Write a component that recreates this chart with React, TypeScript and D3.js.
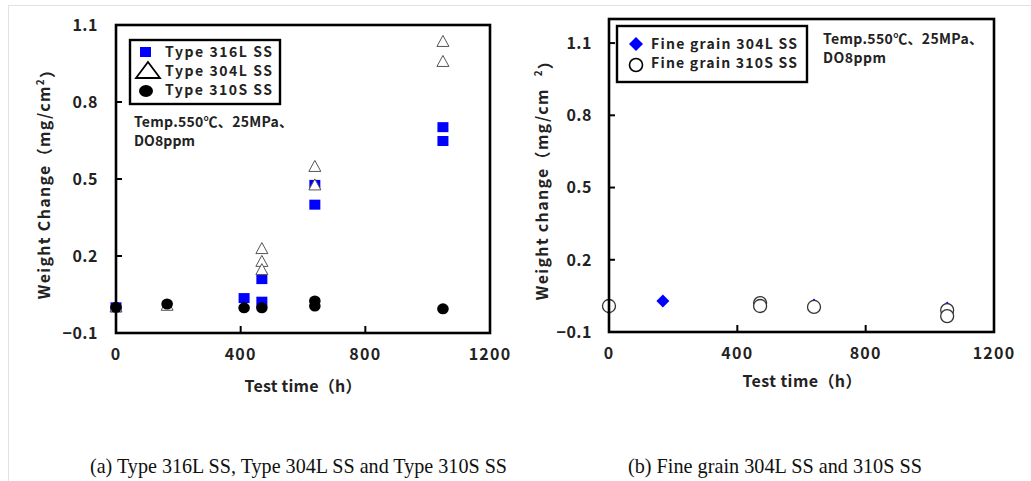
import React from "react";
import * as d3 from "d3";

// ---------- data ----------
// Panel (a): conventional grades
const t316L = [0, 411, 468, 468, 638, 638, 1049, 1049];
const w316L = [0.0, 0.036, 0.022, 0.11, 0.477, 0.4, 0.702, 0.648];

const t304L = [0, 164, 468, 468, 468, 638, 638, 1049, 1049];
const w304L = [0.0, 0.006, 0.227, 0.177, 0.145, 0.547, 0.475, 1.034, 0.956];

const t310S = [0, 164, 411, 468, 638, 638, 1049];
const w310S = [0.0, 0.013, -0.002, -0.002, 0.025, 0.005, -0.006];

// Panel (b): fine grain grades
const tFine304L = [0, 168, 471, 639, 1054];
const wFine304L = [0.0, 0.029, 0.016, 0.012, 0.0];

const tFine310S = [0, 471, 471, 639, 1054, 1054];
const wFine310S = [0.008, 0.02, 0.008, 0.004, -0.009, -0.034];

const xTicks = [0, 400, 800, 1200];
const yTicks = [-0.1, 0.2, 0.5, 0.8, 1.1];

const legendA = ["Type 316L SS", "Type 304L SS", "Type 310S SS"];
const legendB = ["Fine grain 304L SS", "Fine grain 310S SS"];
const condLine1 = "Temp.550℃、25MPa、";
const condLine2 = "DO8ppm";
const xTitle = "Test time（h）";
const captionA = "(a) Type 316L SS, Type 304L SS and Type 310S SS";
const captionB = "(b) Fine grain 304L SS and 310S SS";

const FONT = "'Noto Sans CJK JP', 'Noto Sans', sans-serif";
const BLUE = "#0000ff";

const zip = (ts: number[], ws: number[]) => ts.map((t, i) => ({ t, w: ws[i] }));

type Scales = { x: d3.ScaleLinear<number, number>; y: d3.ScaleLinear<number, number> };

function Frame({ x, y, yLabelX }: Scales & { yLabelX: number }) {
  const [x0, x1] = x.range();
  const [y0, y1] = y.range();
  const fmt = (v: number) => (v < 0 ? "\u2212" + Math.abs(v).toFixed(1) : v.toFixed(1));
  return (
    <g>
      <rect x={x0} y={y1} width={x1 - x0} height={y0 - y1} fill="none" stroke="#000" strokeWidth={2.6} />
      {yTicks.map((v) => (
        <g key={"y" + v}>
          <line x1={x0} x2={x0 + 6} y1={y(v)} y2={y(v)} stroke="#000" strokeWidth={2} />
          <text x={yLabelX} y={y(v)} dy="0.36em" textAnchor="end" fontSize={16} fontWeight={700}
            fontFamily={FONT} fill="#222" letterSpacing={0.5}>
            {fmt(v)}
          </text>
        </g>
      ))}
      {xTicks.map((v) => (
        <g key={"x" + v}>
          <line x1={x(v)} x2={x(v)} y1={y0} y2={y0 - 7} stroke="#000" strokeWidth={2} />
          <text x={x(v)} y={y0 + 27} textAnchor="middle" fontSize={16} fontWeight={700}
            fontFamily={FONT} fill="#222" letterSpacing={1.2}>
            {v}
          </text>
        </g>
      ))}
    </g>
  );
}

function Square({ cx, cy, s = 11 }: { cx: number; cy: number; s?: number }) {
  return <rect x={cx - s / 2} y={cy - s / 2 + 0.5} width={s} height={s - 1} fill={BLUE} />;
}
function Triangle({ cx, cy, w = 12, h = 11, sw = 1 }: { cx: number; cy: number; w?: number; h?: number; sw?: number }) {
  const p = `M${cx},${cy - h / 2 - 1}L${cx + w / 2},${cy + h / 2 - 1}L${cx - w / 2},${cy + h / 2 - 1}Z`;
  return <path d={p} fill="#fff" stroke="#555" strokeWidth={sw} />;
}
function Dot({ cx, cy, rx = 5.8, ry = 5.5 }: { cx: number; cy: number; rx?: number; ry?: number }) {
  return <ellipse cx={cx} cy={cy} rx={rx} ry={ry} fill="#000" />;
}
function Diamond({ cx, cy, r = 6.5 }: { cx: number; cy: number; r?: number }) {
  return <path d={`M${cx},${cy - r}L${cx + r},${cy}L${cx},${cy + r}L${cx - r},${cy}Z`} fill={BLUE} />;
}
function Ring({ cx, cy, r = 6.5 }: { cx: number; cy: number; r?: number }) {
  return <circle cx={cx} cy={cy} r={r} fill="#fff" stroke="#333" strokeWidth={1.3} />;
}

function PanelA() {
  const x = d3.scaleLinear().domain([0, 1200]).range([116, 490]);
  const y = d3.scaleLinear().domain([-0.1, 1.1]).range([333, 25]);
  const lx = 130, ly = 40, lw = 150, lh = 64;
  return (
    <g>
      {zip(t316L, w316L).map((d, i) => <Square key={"s" + i} cx={x(d.t)} cy={y(d.w)} />)}
      {zip(t304L, w304L).map((d, i) => <Triangle key={"t" + i} cx={x(d.t)} cy={y(d.w)} />)}
      {zip(t310S, w310S).map((d, i) => <Dot key={"c" + i} cx={x(d.t)} cy={y(d.w)} />)}
      <Frame x={x} y={y} yLabelX={98} />

      {/* legend */}
      <rect x={lx} y={ly} width={lw} height={lh} fill="#fff" stroke="#000" strokeWidth={2.4} />
      <rect x={140} y={47} width={11} height={10} fill={BLUE} />
      <path d="M148,62L160,78L136,78Z" fill="#fff" stroke="#000" strokeWidth={1.8} />
      <ellipse cx={146} cy={91} rx={7} ry={6} fill="#000" />
      {legendA.map((s, i) => (
        <text key={s} x={165} y={52 + i * 19} dy="0.36em" fontSize={14} fontWeight={700} fontFamily={FONT}
          fill="#222" textLength={107} lengthAdjust="spacing">
          {s}
        </text>
      ))}

      <text x={134} y={122} dy="0.36em" fontSize={14} fontWeight={700} fontFamily={FONT} fill="#222"
        textLength={159} lengthAdjust="spacing">{condLine1}</text>
      <text x={134} y={141} dy="0.36em" fontSize={14} fontWeight={700} fontFamily={FONT} fill="#222"
        textLength={61} lengthAdjust="spacing">{condLine2}</text>

      <text x={303} y={386} dy="0.36em" textAnchor="middle" fontSize={16} fontWeight={700} fontFamily={FONT}
        fill="#222" textLength={117} lengthAdjust="spacing">{xTitle}</text>
      <text transform="translate(44,180) rotate(-90)" textAnchor="middle" dy="0.36em" fontSize={16}
        fontWeight={700} fontFamily={FONT} fill="#222" letterSpacing={1.3}>
        Weight Change（mg/cm<tspan fontSize={10} dy="-0.6em">2</tspan><tspan dy="0.6em">）</tspan>
      </text>
    </g>
  );
}

function PanelB() {
  const x = d3.scaleLinear().domain([0, 1200]).range([609, 994]);
  const y = d3.scaleLinear().domain([-0.1, 1.2]).range([332, 19]);
  return (
    <g>
      {zip(tFine304L, wFine304L).map((d, i) => <Diamond key={"d" + i} cx={x(d.t)} cy={y(d.w)} />)}
      {zip(tFine310S, wFine310S).map((d, i) => <Ring key={"r" + i} cx={x(d.t)} cy={y(d.w)} />)}
      <Frame x={x} y={y} yLabelX={592} />

      <rect x={617} y={26} width={190} height={56} fill="#fff" stroke="#000" strokeWidth={2.4} />
      <path d="M636,37L643,44L636,51L629,44Z" fill={BLUE} />
      <circle cx={636} cy={65} r={6.5} fill="#fff" stroke="#000" strokeWidth={1.6} />
      {legendB.map((s, i) => (
        <text key={s} x={651} y={44 + i * 19} dy="0.36em" fontSize={14} fontWeight={700} fontFamily={FONT}
          fill="#222" textLength={146} lengthAdjust="spacing">
          {s}
        </text>
      ))}

      <text x={823} y={39} dy="0.36em" fontSize={14} fontWeight={700} fontFamily={FONT} fill="#222"
        textLength={160} lengthAdjust="spacing">{condLine1}</text>
      <text x={823} y={58} dy="0.36em" fontSize={14} fontWeight={700} fontFamily={FONT} fill="#222"
        textLength={63} lengthAdjust="spacing">{condLine2}</text>

      <text x={802} y={381} dy="0.36em" textAnchor="middle" fontSize={16} fontWeight={700} fontFamily={FONT}
        fill="#222" textLength={119} lengthAdjust="spacing">{xTitle}</text>
      <text transform="translate(542,176) rotate(-90)" textAnchor="middle" dy="0.36em" fontSize={16}
        fontWeight={700} fontFamily={FONT} fill="#222" letterSpacing={1.3}>
        Weight change（mg/cm<tspan dx={12} fontSize={10} dy="-0.6em">2</tspan><tspan dy="0.6em">）</tspan>
      </text>
    </g>
  );
}

export default function App() {
  return (
    <div style={{ position: "absolute", left: 0, top: 0 }}>
      <svg width={1031} height={481} viewBox="0 0 1031 481" style={{ display: "block", background: "#fff" }}>
        <rect x={0} y={0} width={1031} height={481} fill="#fff" />
        {/* page border */}
        <line x1={8} x2={1031} y1={5.5} y2={5.5} stroke="#e2e2e2" strokeWidth={1} />
        <line x1={8.5} x2={8.5} y1={5} y2={481} stroke="#e2e2e2" strokeWidth={1} />
        <PanelA />
        <PanelB />
        <text x={90} y={473} fontFamily="'Liberation Serif', 'Times New Roman', serif" fontSize={21} fill="#111"
          textLength={417} lengthAdjust="spacingAndGlyphs">{captionA}</text>
        <text x={628} y={473} fontFamily="'Liberation Serif', 'Times New Roman', serif" fontSize={21} fill="#111"
          textLength={294} lengthAdjust="spacingAndGlyphs">{captionB}</text>
      </svg>
    </div>
  );
}
